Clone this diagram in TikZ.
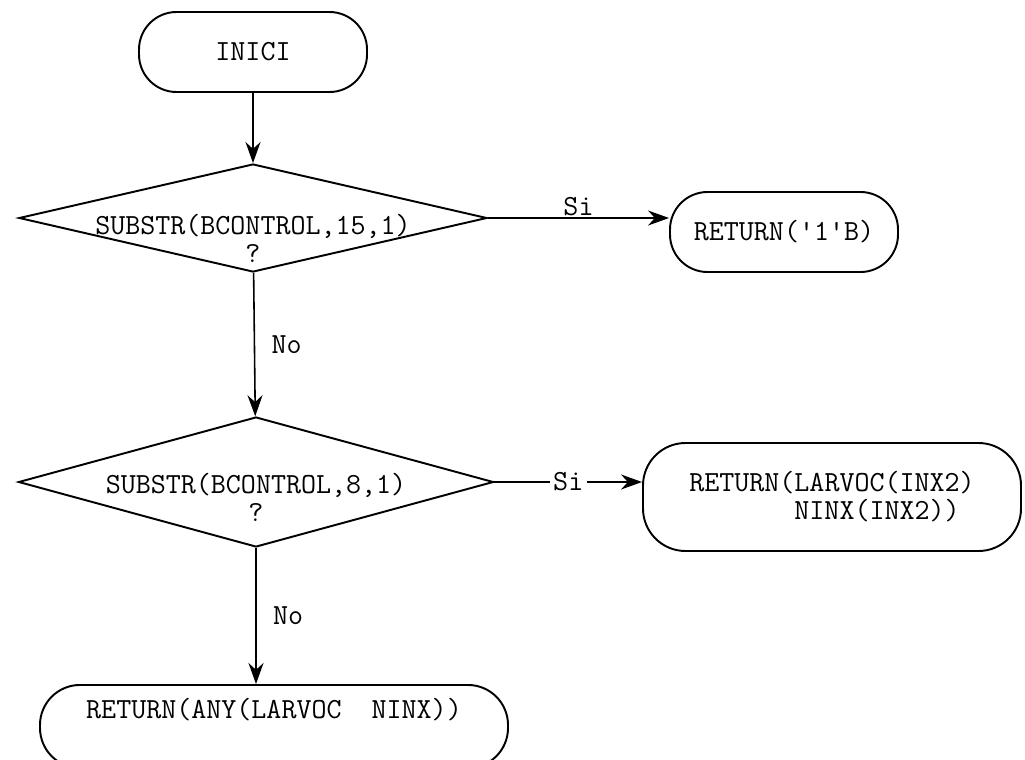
\documentclass[tikz,border=0pt]{standalone}
\usepackage{tikz}
\usetikzlibrary{shapes.geometric, arrows.meta}

\begin{document}
\begin{tikzpicture}[
    every node/.style={font=\ttfamily\fontsize{16.6}{16}\selectfont},
    term/.style={draw, line width=1.1pt, rounded corners=0.75cm,
        minimum width=4.56cm, minimum height=1.6cm},
    decision/.style={draw, diamond, line width=1.1pt, inner sep=0pt},
    flow/.style={line width=0.9pt, -{Stealth[length=0.42cm, width=0.3cm]}}
  ]
    \useasboundingbox (0,0) rectangle (20.5,-15.18);

    % start and the first test
    \node[term] (inici) at (5.06,-1.04) {INICI};
    \node[decision, minimum width=9.36cm, minimum height=2.16cm] (cond1) at (5.06,-4.36) {};
    \node[align=center] (cond1txt) at (5.06,-4.76) {SUBSTR(BCONTROL,15,1)\\?};
    \node[term] (ret1) at (15.68,-4.64) {RETURN(\textquotesingle1\textquotesingle B)};

    % second test
    \node[decision, minimum width=9.5cm, minimum height=2.6cm] (cond2) at (5.12,-9.64) {};
    \node[align=center] (cond2txt) at (5.12,-9.94) {SUBSTR(BCONTROL,8,1)\\?};
    \node[term, align=left, minimum width=7.56cm, minimum height=2.16cm,
        rounded corners=0.85cm] (ret2) at (16.64,-9.94)
        {RETURN(LARVOC(INX2)\\\phantom{RETURN(}NINX(INX2))};

    % last return, text sits high in the box
    \node[term, minimum width=9.36cm, minimum height=1.66cm, rounded corners=0.8cm,
        text depth=0.72cm, anchor=north] (ret3) at (5.48,-13.68) {RETURN(ANY(LARVOC\ \ NINX))};

    \draw[flow] (inici) -- (cond1);
    \draw[flow] (cond1.east) -- node[above, inner sep=1pt] (si1) {Si} (cond1.east -| ret1.west);
    \draw[flow] (cond1) -- node[right=6pt] (no1) {No} (cond2);
    \draw[flow] (cond2.east) -- node[fill=white, inner sep=2pt] (si2) {Si} (cond2.east -| ret2.west);
    \draw[flow] (cond2.south) -- node[right=6pt] (no2) {No} (cond2.south |- ret3.north);
\end{tikzpicture}
\end{document}
